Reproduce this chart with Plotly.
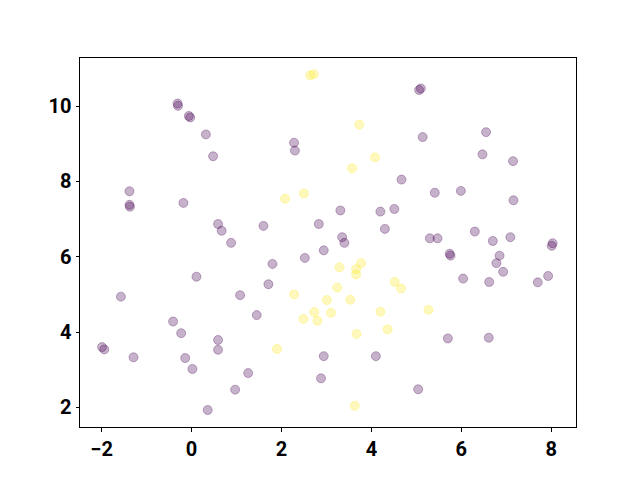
import plotly.graph_objects as go

purple_x = [-0.31, -0.30, -0.06, -0.03, 0.32, 0.48, -1.38, -1.38, -1.37, -0.18, 0.59, 0.67, 0.88,
            2.28, 2.30, 4.67, 3.31, 4.20, 4.51, 1.60, 2.83, 4.30, 3.35, 3.40,
            5.06, 5.10, 5.14, 6.55, 6.47, 7.15, 5.41, 5.99, 7.16, 5.30, 5.47, 6.30, 6.70, 7.09,
            8.03, 8.01, 5.74, 5.76, 6.85, 6.78, 6.93, 6.04, 6.62, 7.70, 7.93, 5.70, 6.61, 5.04,
            0.11, 1.08, -1.57, -0.41, -0.23, 0.59, 0.59, -1.99, -1.94, -1.29, -0.14, 0.02, 1.26, 0.97, 0.36,
            2.94, 2.52, 1.80, 1.71, 1.45, 2.94, 4.10, 2.88]
purple_y = [10.07, 10.01, 9.74, 9.70, 9.25, 8.67, 7.74, 7.38, 7.33, 7.43, 6.87, 6.69, 6.37,
            9.03, 8.82, 8.05, 7.23, 7.20, 7.27, 6.82, 6.87, 6.74, 6.52, 6.37,
            10.43, 10.47, 9.18, 9.31, 8.72, 8.54, 7.70, 7.75, 7.50, 6.49, 6.49, 6.67, 6.42, 6.52,
            6.36, 6.29, 6.08, 6.03, 6.03, 5.83, 5.60, 5.42, 5.33, 5.32, 5.49, 3.83, 3.85, 2.48,
            5.47, 4.98, 4.94, 4.28, 3.97, 3.79, 3.53, 3.60, 3.54, 3.33, 3.31, 3.02, 2.91, 2.47, 1.93,
            6.17, 5.97, 5.81, 5.27, 4.45, 3.36, 3.36, 2.77]

yellow_x = [2.64, 2.72, 3.73, 4.08, 3.57, 2.50, 2.08,
            3.29, 3.66, 3.77, 3.66, 2.28, 3.24, 3.01, 3.53, 2.73, 3.10, 2.49, 2.80,
            4.52, 4.66, 4.20, 4.36, 3.67, 1.90, 3.63, 5.27]
yellow_y = [10.82, 10.85, 9.51, 8.64, 8.35, 7.68, 7.54,
            5.72, 5.67, 5.83, 5.53, 5.00, 5.18, 4.85, 4.86, 4.53, 4.51, 4.35, 4.30,
            5.33, 5.16, 4.54, 4.07, 3.95, 3.55, 2.04, 4.59]

x_ticks = [-2, 0, 2, 4, 6, 8]
y_ticks = [2, 4, 6, 8, 10]

fig = go.Figure()
for xs, ys, rgb in [(purple_x, purple_y, "68,1,84"), (yellow_x, yellow_y, "253,231,37")]:
    fig.add_trace(go.Scatter(
        x=xs, y=ys, mode="markers",
        marker=dict(size=9, color=f"rgba({rgb},0.3)",
                    line=dict(color=f"rgba({rgb},0.3)", width=1)),
        showlegend=False, hoverinfo="skip"))

axis_common = dict(showgrid=False, zeroline=False, showline=True, mirror=True,
                   linecolor="black", linewidth=1, ticks="outside", ticklen=3.5,
                   tickwidth=1, tickcolor="black",
                   tickfont=dict(family="Roboto", size=20, color="black", weight="bold"))

fig.update_layout(
    width=640, height=480,
    margin=dict(l=80, r=64, t=57.6, b=52.8),
    paper_bgcolor="white", plot_bgcolor="white",
    xaxis=dict(range=[-2.48, 8.55], tickvals=x_ticks,
               ticktext=[str(v).replace("-", "\u2212") for v in x_ticks], **axis_common),
    yaxis=dict(range=[1.478, 11.28], tickvals=y_ticks,
               ticktext=[str(v) for v in y_ticks], **axis_common),
)

fig.write_html("out.html", config={"displayModeBar": False},
               post_script="document.body.style.margin='0';document.body.style.overflow='hidden';")
